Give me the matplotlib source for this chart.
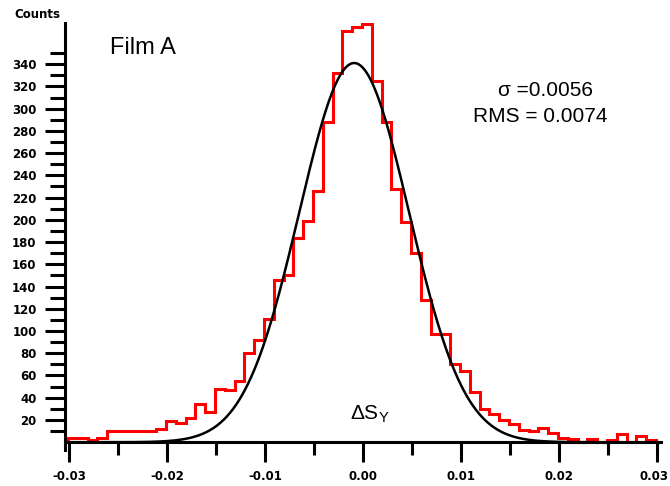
import numpy as np
import matplotlib
matplotlib.use('Agg')
import matplotlib.pyplot as plt
from matplotlib.ticker import MultipleLocator
from matplotlib.transforms import ScaledTranslation

plt.rcParams['axes.unicode_minus'] = False

# Histogram of Delta S_Y (bin width 0.001), counts
bin_edges = np.linspace(-0.0301, 0.0299, 61)
counts = [4, 4, 2, 4, 10, 10, 10, 10, 10, 12,
          19, 17, 22, 34, 27, 48, 47, 55, 80, 92,
          111, 146, 150, 184, 199, 226, 288, 332, 370, 373,
          376, 325, 288, 228, 198, 170, 128, 97, 97, 70,
          64, 45, 30, 25, 20, 16, 11, 10, 13, 8,
          4, 3, 0, 3, 0, 2, 7, 0, 6, 2]

x_ticks = [-0.03, -0.02, -0.01, 0.0, 0.01, 0.02, 0.03]
x_labels = ['-0.03', '-0.02', '-0.01', '0.00', '0.01', '0.02', '0.03']

# Gaussian fit parameters
fit_amp = 341
fit_mu = -0.0009
fit_sigma = 0.0056
rms = 0.0074

fig = plt.figure(figsize=(6.7, 4.86), dpi=100)
ax = fig.add_axes([65 / 670, 36 / 486, 596 / 670, 427 / 486])

ax.stairs(counts, bin_edges, color='red', linewidth=2.2)

xs = np.linspace(-0.0304, 0.0304, 600)
ax.plot(xs, fit_amp * np.exp(-0.5 * ((xs - fit_mu) / fit_sigma) ** 2),
        color='black', linewidth=1.8)

ax.set_xlim(-0.0304, 0.0304)
ax.set_ylim(-7, 377)

# axes style
for side in ['top', 'right']:
    ax.spines[side].set_visible(False)
ax.spines['left'].set_linewidth(2.2)
ax.spines['bottom'].set_linewidth(2.2)
ax.spines['bottom'].set_position(('data', 0))

ax.set_xticks(x_ticks)
ax.set_xticklabels(x_labels)
ax.xaxis.set_minor_locator(MultipleLocator(0.005))
ax.set_yticks(range(20, 341, 20))
ax.set_yticks(range(10, 351, 20), minor=True)

ax.tick_params(axis='y', which='major', length=14.4, width=2.2, pad=6)
ax.tick_params(axis='y', which='minor', length=10.8, width=2.2)
ax.tick_params(axis='x', which='major', length=14.4, width=2.2, pad=5.5)
ax.tick_params(axis='x', which='minor', length=9.4, width=2.2)
for lab in ax.get_xticklabels() + ax.get_yticklabels():
    lab.set_fontweight('bold')
    lab.set_fontsize(8.5)

# nudge the last x label so it stays inside the picture
last = ax.xaxis.get_major_ticks()[-1].label1
last.set_transform(last.get_transform() + ScaledTranslation(-0.03, 0, fig.dpi_scale_trans))

# annotations
fig.text(37 / 670, 1 - 15 / 486, 'Counts', ha='center', va='center',
         fontsize=8.5, fontweight='bold')
fig.text(110 / 670, 1 - 48 / 486, 'Film A', ha='left', va='center',
         fontsize=17, family='Liberation Sans')
fig.text(498 / 670, 1 - 90 / 486, 'σ =0.0056', ha='left', va='center',
         fontsize=15, family='Liberation Sans')
fig.text(473 / 670, 1 - 117 / 486, f'RMS = {rms:.4f}', ha='left', va='center',
         fontsize=15, family='Liberation Sans')
fig.text(350 / 670, 1 - 414 / 486, r'ΔS$_\mathregular{Y}$', ha='left', va='center',
         fontsize=15, family='Liberation Sans')

plt.savefig('out.png', dpi=100)
plt.close()
